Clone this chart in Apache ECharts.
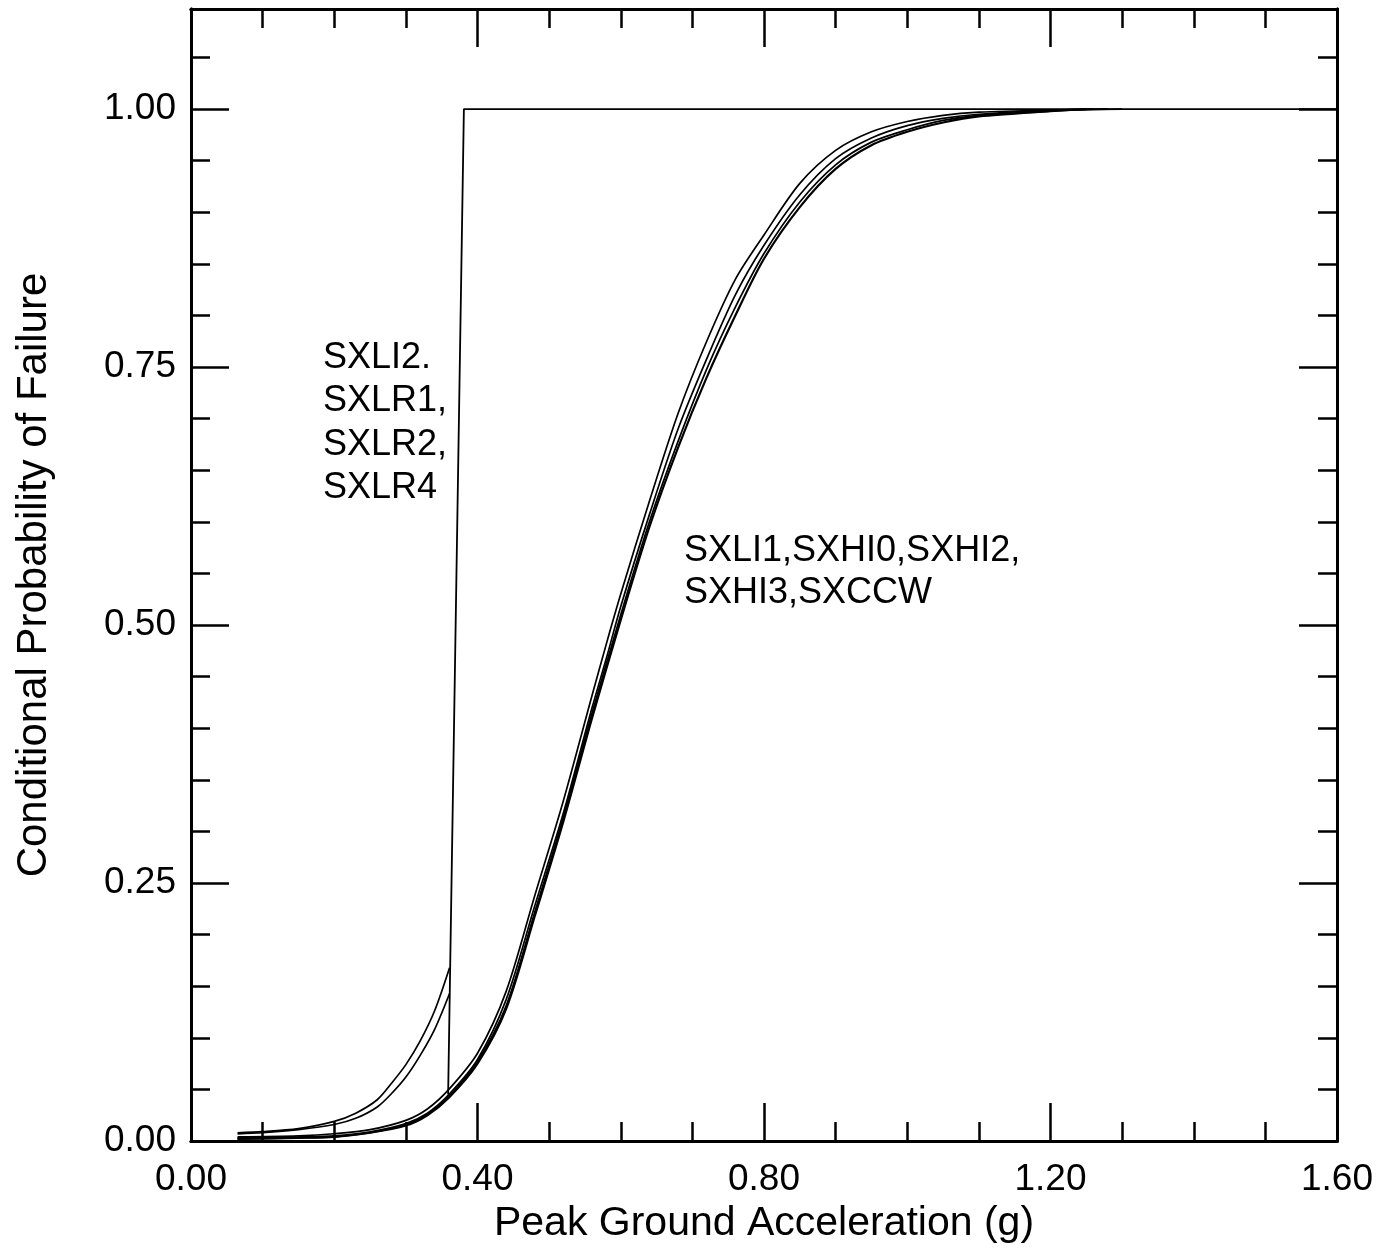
<!DOCTYPE html>
<html>
<head>
<meta charset="utf-8">
<script src="https://cdn.jsdelivr.net/npm/echarts@6/dist/echarts.min.js"></script>
<style>
    html, body { margin: 0; padding: 0; background: #fff; }
    #chart { width: 1377px; height: 1250px; }
</style>
</head>
<body>
<div id="chart"></div>
<script>
/* 字体 */
const FONT = "'Liberation Sans', Arial, sans-serif";

/* 坐标范围 */
const xRange = [0, 1.6];
const yRange = [0, 1.097];

/* SXLI2, SXLR1, SXLR2, SXLR4：左侧两条曲线 + 竖直跳变 */
const lowA1 = [[0.065,0.008],[0.10,0.009],[0.15,0.012],[0.20,0.019],[0.23,0.027],[0.26,0.040],[0.28,0.056],[0.30,0.074],[0.32,0.097],[0.34,0.126],[0.361,0.168]];
const lowA2 = [[0.065,0.007],[0.10,0.008],[0.15,0.011],[0.20,0.016],[0.23,0.022],[0.26,0.033],[0.28,0.046],[0.30,0.062],[0.32,0.083],[0.34,0.108],[0.361,0.143]];
const stepLine = [[0.359,0.045],[0.381,1.0],[1.6,1.0]];

/* SXLI1, SXHI0, SXHI2, SXHI3, SXCCW：S 形曲线 */
const curveB1 = [[0.065,0.004],[0.15,0.005],[0.20,0.007],[0.25,0.011],[0.30,0.020],[0.33,0.031],[0.36,0.050],[0.40,0.085],[0.44,0.145],[0.48,0.238],[0.52,0.330],[0.56,0.432],[0.58,0.482],[0.60,0.530],[0.64,0.620],[0.68,0.705],[0.72,0.775],[0.76,0.835],[0.80,0.878],[0.85,0.928],[0.90,0.960],[0.95,0.978],[1.00,0.988],[1.05,0.994],[1.10,0.997],[1.20,0.999],[1.30,1.0]];
const curveB1b = [[0.065,0.003],[0.15,0.004],[0.20,0.005],[0.25,0.009],[0.30,0.017],[0.33,0.027],[0.36,0.045],[0.40,0.079],[0.44,0.137],[0.48,0.228],[0.52,0.318],[0.56,0.420],[0.58,0.468],[0.60,0.518],[0.64,0.607],[0.68,0.690],[0.72,0.758],[0.76,0.820],[0.80,0.868],[0.85,0.917],[0.90,0.952],[0.95,0.972],[1.00,0.984],[1.05,0.991],[1.10,0.995],[1.20,0.999],[1.28,1.0]];
const curveB2b = [[0.065,0.002],[0.15,0.003],[0.20,0.004],[0.25,0.008],[0.30,0.016],[0.33,0.026],[0.36,0.043],[0.40,0.077],[0.44,0.131],[0.48,0.222],[0.52,0.314],[0.56,0.415],[0.60,0.510],[0.64,0.600],[0.68,0.678],[0.72,0.748],[0.76,0.808],[0.80,0.860],[0.85,0.910],[0.90,0.946],[0.95,0.968],[1.00,0.980],[1.05,0.989],[1.10,0.994],[1.20,0.998],[1.26,1.0]];
const curveB2 = [[0.065,0.002],[0.15,0.003],[0.20,0.004],[0.25,0.008],[0.30,0.015],[0.33,0.025],[0.36,0.042],[0.40,0.075],[0.44,0.128],[0.48,0.218],[0.52,0.310],[0.56,0.410],[0.60,0.505],[0.64,0.595],[0.68,0.672],[0.72,0.740],[0.76,0.800],[0.80,0.855],[0.85,0.905],[0.90,0.942],[0.95,0.965],[1.00,0.978],[1.05,0.987],[1.10,0.993],[1.20,0.998],[1.25,1.0]];

/* 注释文字 */
const noteLeft = ["SXLI2.", "SXLR1,", "SXLR2,", "SXLR4"];
const noteRight = ["SXLI1,SXHI0,SXHI2,", "SXHI3,SXCCW"];

const chart = echarts.init(document.getElementById("chart"));

/* 轴的公共样式 */
function makeAxis(pos, interval, tickLen, range, extra){

    return Object.assign({
        type: "value",
        position: pos,
        min: range[0],
        max: range[1],
        interval: interval,
        axisLine: { show: true, onZero: false, lineStyle: { color: "#000", width: 3 } },
        axisTick: { show: true, inside: true, length: tickLen, lineStyle: { color: "#000", width: 2.5 } },
        splitLine: { show: false },
        axisLabel: { show: false }
    }, extra || {});
}

const xLabel = {
    show: true,
    margin: 20,
    color: "#000",
    fontSize: 37,
    fontFamily: FONT,
    formatter: v => v.toFixed(2)
};

const yLabel = {
    show: true,
    margin: 15,
    color: "#000",
    fontSize: 37,
    fontFamily: FONT,
    showMaxLabel: false,
    formatter: v => (v > 1.05 ? "" : v.toFixed(2))
};

function curve(data, width){

    return {
        type: "line",
        data: data,
        smooth: 0.3,
        symbol: "none",
        xAxisIndex: 0,
        yAxisIndex: 0,
        lineStyle: { color: "#000", width: width || 1.7 },
        z: 3
    };
}

chart.setOption({

    backgroundColor: "#fff",
    animation: false,

    grid: { left: 191, right: 40, top: 9, bottom: 109 },

    xAxis: [
        makeAxis("bottom", 0.4, 38, xRange, {
            axisLabel: xLabel,
            name: "Peak Ground Acceleration (g)",
            nameLocation: "middle",
            nameGap: 52,
            nameTextStyle: { color: "#000", fontSize: 41, fontFamily: FONT }
        }),
        makeAxis("bottom", 0.1, 19, xRange),
        makeAxis("top", 0.4, 38, xRange),
        makeAxis("top", 0.1, 19, xRange)
    ],

    yAxis: [
        makeAxis("left", 0.25, 38, yRange, {
            axisLabel: yLabel,
            name: "Conditional Probability of Failure",
            nameLocation: "middle",
            nameGap: 136,
            nameTextStyle: { color: "#000", fontSize: 42, fontFamily: FONT }
        }),
        makeAxis("left", 0.05, 19, yRange),
        makeAxis("right", 0.25, 38, yRange),
        makeAxis("right", 0.05, 19, yRange)
    ],

    series: [
        curve(lowA1),
        curve(lowA2),
        {
            type: "line",
            data: stepLine,
            symbol: "none",
            lineStyle: { color: "#000", width: 1.8 },
            z: 3
        },
        curve(curveB1),
        curve(curveB1b),
        curve(curveB2b),
        curve(curveB2, 2.2)
    ],

    graphic: [
        {
            type: "text",
            left: 323,
            top: 336,
            style: {
                text: noteLeft.join("\n"),
                font: "36px " + FONT,
                lineHeight: 43.5,
                fill: "#000"
            }
        },
        {
            type: "text",
            left: 684,
            top: 530,
            style: {
                text: noteRight.join("\n"),
                font: "36px " + FONT,
                lineHeight: 42,
                fill: "#000"
            }
        }
    ]
});
</script>
</body>
</html>
